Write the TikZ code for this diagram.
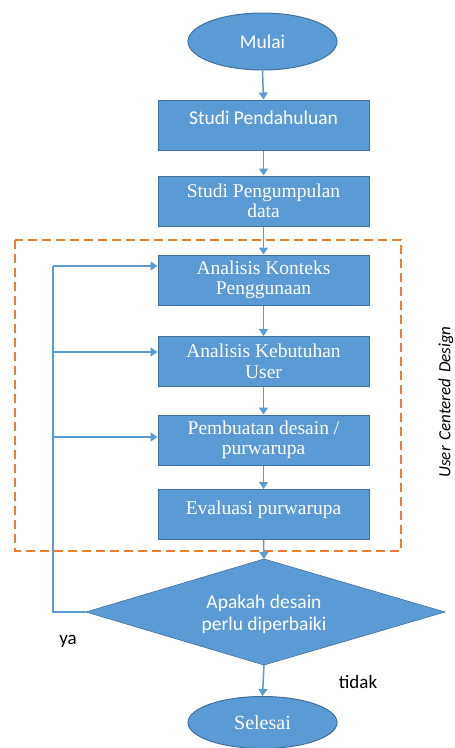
\documentclass[tikz,border=0pt]{standalone}
\usepackage{fontspec}
\setmainfont{Liberation Serif}
\newfontfamily\calib{Carlito}
\usetikzlibrary{arrows.meta,shapes.geometric}
\definecolor{boxfill}{HTML}{5B9BD5}
\definecolor{boxline}{HTML}{41719C}
\definecolor{conn}{HTML}{5B9BD5}
\definecolor{ucd}{HTML}{ED7D31}
\newcommand{\upline}[2]{\raisebox{#1}[0.7em][0.2em]{#2}}
\begin{document}
\begin{tikzpicture}[x=1pt,y=-1pt,
  procbox/.style={draw=boxline,fill=boxfill,line width=1pt,minimum width=211pt,minimum height=50pt,inner sep=0pt,text=white,align=center,font=\fontsize{19.5}{20.5}\selectfont},
  termnode/.style={ellipse,draw=boxline,fill=boxfill,line width=1pt,minimum width=149pt,inner sep=0pt,text=white},
  conline/.style={draw=conn,line width=1.5pt},
  arr/.style={conline,-{Triangle[width=9pt,length=7pt]}},
  lbl/.style={font=\calib\fontsize{19}{20}\selectfont,text=black}
]
\useasboundingbox (0,0) rectangle (455,748);
% dashed UCD frame
\draw[ucd,line width=1.5pt,dash pattern=on 9pt off 5pt] (15,240) rectangle (401,551);
\node[rotate=90,inner sep=0pt,font=\calib\itshape\fontsize{17}{17}\selectfont] (ucdlbl) at (446,402) {User\,\,Centered\,\,Design};

\node[termnode,minimum height=57pt,font=\calib\fontsize{19.5}{20}\selectfont] (mulai) at (262.5,41.5) {Mulai};
\node[procbox,font=\calib\fontsize{19.5}{20}\selectfont] (p1) at (263.5,125) {\upline{5pt}{Studi Pendahuluan}};
\node[procbox] (p2) at (263.5,201) {Studi Pengumpulan\\data};
\node[procbox] (p3) at (263.5,280) {Analisis Konteks\\Penggunaan};
\node[procbox] (p4) at (263.5,361.5) {Analisis Kebutuhan\\User};
\node[procbox] (p5) at (263.5,440) {Pembuatan desain /\\purwarupa};
\node[procbox] (p6) at (263.5,514.5) {\upline{5pt}{Evaluasi purwarupa}};

% decision diamond
\coordinate (dt) at (264,559);
\coordinate (dr) at (445,612);
\coordinate (db) at (264,665);
\coordinate (dl) at (86,612);
\fill[boxfill] (dt) -- (dr) -- (db) -- (dl) -- cycle;
\draw[boxline,line width=0.6pt] (dt) -- (dr) -- (db) -- (dl) -- cycle;
\node[text=white,align=center,font=\calib\fontsize{19.5}{22}\selectfont] (dec) at (264,614) {Apakah desain\\perlu diperbaiki};

\node[termnode,minimum height=52pt,font=\fontsize{20}{20}\selectfont] (selesai) at (262.5,722.5) {Selesai};

% connectors
\draw[arr] (mulai.south) -- (p1.north);
\draw[arr] (p1.south) -- (p2.north);
\draw[arr] (p2.south) -- (p3.north);
\draw[arr] (p3.south) -- (p4.north);
\draw[arr] (p4.south) -- (p5.north);
\draw[arr] (p5.south) -- (p6.north);
\draw[arr] (p6.south) -- (dt);
\draw[arr] (db) -- (selesai.north);

% loop back
\coordinate (lb) at (53,612);
\coordinate (lt) at (53,266);
\draw[conline] (dl) -- (lb) -- (lt);
\draw[arr] (lt) -- (p3.west |- lt);
\draw[arr] (53,352) -- (p4.west |- 0,352);
\draw[arr] (53,437) -- (p5.west |- 0,437);

\node[lbl] (ya) at (68,641) {ya};
\node[lbl] (tidak) at (358,682) {tidak};
\end{tikzpicture}
\end{document}
